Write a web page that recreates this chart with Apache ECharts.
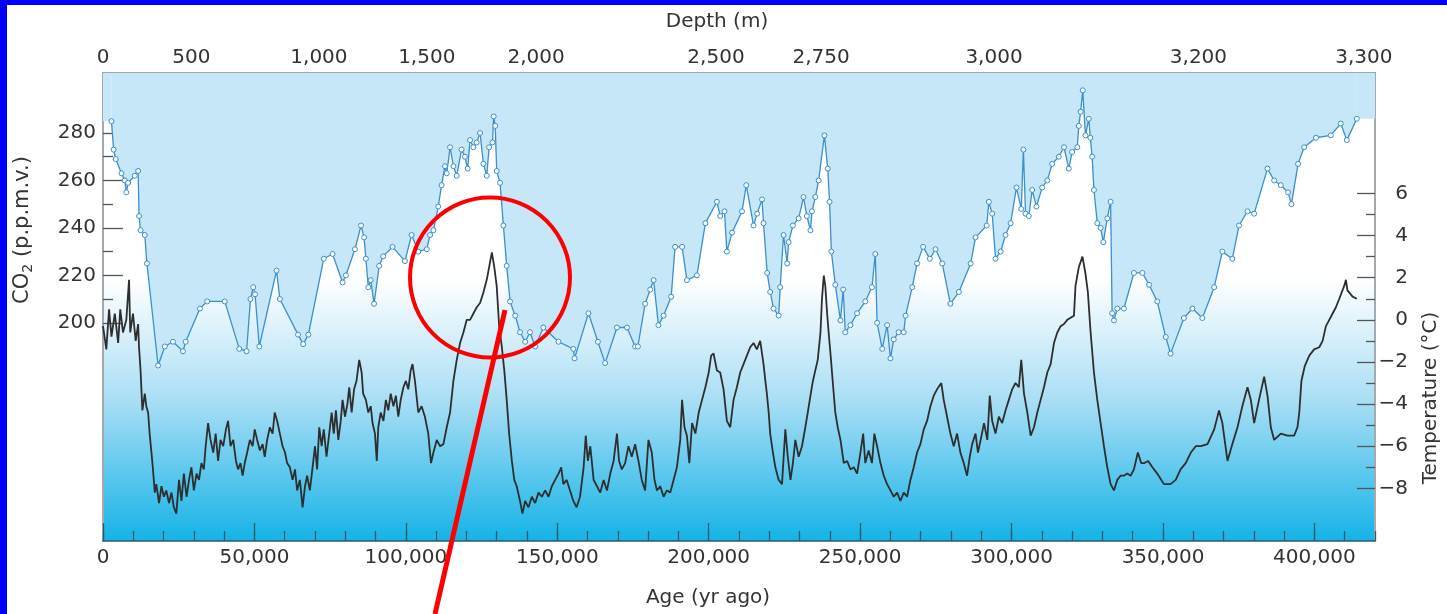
<!DOCTYPE html>
<html>
<head>
<meta charset="utf-8">
<title>Vostok CO2 and temperature</title>
<script src="https://cdn.jsdelivr.net/npm/echarts@6/dist/echarts.min.js"></script>
<style>
  html, body { margin: 0; padding: 0; background: #fff; }
  #chart { width: 1447px; height: 614px; }
</style>
</head>
<body>
<div id="chart"></div>
<script>
// CO2 record (age in yr ago, p.p.m.v.)
var co2Age = [
  2800, 3500, 4200, 6100, 7200, 7700, 8300, 10500, 11600, 11900,
  12400, 13800, 14500, 18200, 20400, 23100, 26400, 27300, 32000, 34400,
  40200, 45000, 47400, 48700, 49600, 50200, 51600, 57300, 58400, 64400,
  66100, 67800, 72900, 75800, 79100, 80200, 83200, 85200, 86200, 86800,
  87600, 88400, 89500, 91200, 92500, 95600, 99700, 101900, 104100, 106900,
  108000, 109100, 110700, 111800, 112900, 113500, 114600, 115700, 116800, 118400,
  119500, 120400, 121200, 122300, 123400, 124500, 125600, 126700, 127500, 128600,
  129000, 129500, 130000, 131100, 132200, 133300, 134400, 136100, 137700, 139400,
  141000, 142700, 145400, 150400, 155300, 155700, 160300, 163400, 165800, 169700,
  173000, 175700, 176600, 179000, 180700, 181800, 183400, 185100, 187600, 188900,
  191200, 192800, 196100, 198900, 202700, 203800, 205200, 206000, 207700, 211000,
  212400, 214800, 216000, 217600, 218100, 219300, 220300, 221400, 223100, 223600,
  224700, 225900, 226400, 227800, 229700, 231300, 232400, 233600, 234100, 235200,
  236300, 238200, 239300, 239900, 240500, 241800, 243500, 244400, 245100, 246800,
  249000, 251700, 253900, 255000, 255600, 257300, 258900, 260000, 261100, 262700,
  264400, 265000, 267200, 268800, 270800, 273000, 274900, 277100, 279800, 282600,
  286500, 288100, 291800, 292500, 293600, 294700, 296400, 298000, 299700, 301600,
  303200, 303900, 304600, 305700, 306800, 308200, 310100, 311800, 313400, 315600,
  317300, 318900, 320000, 321700, 322200, 322800, 323500, 324400, 325500, 326000,
  326600, 327200, 328300, 329400, 330300, 331600, 332700, 333200, 333800, 334900,
  337100, 340400, 343200, 345400, 348100, 350900, 352500, 356900, 359700, 363000,
  366900, 369600, 372900, 375100, 377900, 380100, 384500, 386700, 388900, 391300,
  392400, 394600, 396600, 400500, 405400, 408700, 410700, 414000
];
var co2Value = [
  285, 273, 269, 263, 260, 255, 259, 262, 264, 245,
  239, 237, 225, 182, 190, 192, 188, 192, 206, 209,
  209, 189, 188, 210, 215, 212, 190, 222, 210, 195,
  191, 195, 227, 229, 217, 220, 231, 241, 236, 227,
  215, 218, 208, 224, 228, 232, 226, 237, 230, 231,
  237, 239, 249, 258, 266, 263, 274, 266, 262, 273,
  270, 265, 277, 274, 276, 280, 267, 262, 274, 276,
  287, 283, 264, 259, 241, 224, 209, 203, 196, 192,
  196, 190, 198, 192, 189, 185, 204, 192, 183, 198,
  198, 190, 190, 208, 214, 218, 199, 203, 211, 232,
  232, 218, 220, 242, 251, 245, 247, 230, 238, 247,
  258, 241, 246, 252, 242, 221, 213, 206, 203, 215,
  237, 225, 234, 241, 244, 253, 245, 239, 247, 253,
  260, 279, 265, 251, 230, 216, 201, 214, 196, 199,
  204, 209, 215, 229, 200, 189, 199, 185, 193, 196,
  196, 203, 215, 225, 232, 227, 231, 225, 208, 213,
  225, 236, 241, 251, 246, 227, 230, 237, 242, 257,
  248, 273, 246, 245, 256, 249, 257, 260, 267, 270,
  274, 265, 272, 274, 283, 289, 298, 279, 286, 278,
  270, 256, 242, 240, 234, 244, 251, 204, 201, 206,
  206, 221, 221, 216, 209, 194, 187, 202, 206, 202,
  215, 230, 227, 241, 247, 246, 265, 260, 258, 255,
  250, 267, 274, 278, 279, 284, 277, 286
];

// temperature record (age in yr ago, deg C)
var tempAge = [
  0, 1100, 2000, 2800, 3900, 5000, 5700, 6600, 7700, 8600,
  9000, 9900, 10800, 11600, 11900, 12400, 13000, 13800, 14300, 14900,
  15400, 16000, 16500, 17100, 17600, 18500, 19300, 20100, 20900, 21800,
  22600, 23400, 24200, 25100, 25900, 26700, 27600, 28400, 29200, 30000,
  30900, 31700, 32500, 33300, 33900, 34700, 35500, 36400, 37200, 38000,
  38800, 39700, 40600, 41300, 42100, 43000, 43900, 44600, 45400, 46100,
  46800, 47600, 48500, 49400, 50100, 50900, 51800, 52700, 53400, 54200,
  55100, 56000, 56700, 57500, 58400, 59300, 60100, 60800, 61700, 62600,
  63400, 64100, 65000, 65900, 66700, 67400, 68300, 69200, 70000, 70700,
  71400, 72200, 72900, 73800, 74700, 75500, 76200, 76900, 77700, 78500,
  79100, 79900, 80700, 81300, 82100, 82900, 83700, 84600, 85400, 85900,
  86800, 87600, 88400, 89000, 89800, 90400, 90900, 91700, 92600, 93400,
  94200, 95000, 95900, 96700, 97500, 98300, 99200, 100000, 100800, 101600,
  102200, 103000, 104100, 105200, 106300, 107400, 108300, 109100, 110200, 111300,
  112400, 113500, 114600, 115700, 116800, 117900, 119000, 120100, 121200, 122300,
  123400, 124500, 125600, 126700, 127500, 128400, 129200, 130000, 130800, 131700,
  132500, 133300, 134100, 135000, 135800, 136600, 137700, 138500, 139400, 140500,
  141600, 142700, 143800, 144900, 146000, 147100, 148200, 149300, 150400, 151300,
  152000, 153100, 154200, 155300, 156400, 157500, 158700, 159400, 160100, 160900,
  162000, 163100, 164200, 165300, 166400, 167500, 168600, 169700, 170400, 171300,
  172400, 173500, 174600, 175700, 176800, 177900, 179000, 180100, 181200, 182100,
  182900, 184000, 185100, 186200, 187300, 188400, 189500, 190600, 191200, 192000,
  192800, 193600, 194500, 195600, 196700, 197800, 198900, 200000, 200800, 201600,
  202700, 203800, 204900, 206000, 207100, 208200, 209300, 210400, 211500, 212600,
  213700, 214800, 215900, 217000, 217600, 218100, 218700, 219200, 219800, 220300,
  221200, 222000, 223100, 224200, 225300, 226100, 227000, 227800, 228600, 229700,
  230800, 231900, 232700, 233600, 234400, 235200, 236000, 236900, 237400, 238000,
  238500, 239100, 239600, 240200, 241100, 241800, 242600, 243500, 244600, 245700,
  246800, 247900, 249000, 250100, 251000, 251700, 252800, 253900, 254700, 255600,
  256700, 257800, 258900, 260000, 261100, 262200, 263300, 264400, 265500, 266600,
  267700, 268800, 269900, 271000, 272100, 273200, 274300, 275400, 276800, 277600,
  278700, 279800, 280900, 282000, 283100, 284200, 285300, 286200, 287000, 288100,
  288900, 289800, 290900, 292000, 292800, 293600, 294700, 295800, 296900, 298000,
  299100, 300200, 301300, 302400, 303200, 304100, 305200, 306300, 307400, 308500,
  309600, 310700, 311800, 312900, 314000, 315100, 316200, 317300, 318400, 319500,
  320600, 321100, 322200, 323400, 324400, 325200, 326100, 327200, 328300, 329400,
  330500, 331600, 332700, 333800, 334900, 336000, 337100, 338200, 339300, 340400,
  341700, 342800, 343900, 345100, 346500, 348100, 350300, 352500, 354200, 355800,
  357500, 359200, 360800, 362500, 364700, 366900, 368500, 369600, 371300, 372900,
  374600, 376200, 377900, 379000, 380100, 381700, 383400, 384500, 385600, 386700,
  388900, 391100, 393300, 394400, 395000, 395700, 396800, 398300, 399900, 401600,
  402700, 403800, 404900, 406000, 407100, 408200, 409800, 410400, 410900, 412600,
  414000
];
var tempValue = [
  -0.3, -1.4, 0.5, -0.8, 0.3, -1.1, 0.5, -0.6, 0.0, 1.9,
  -0.6, 0.3, -1.0, -0.2, -1.3, -2.4, -4.3, -3.5, -4.1, -4.4,
  -5.4, -6.3, -7.1, -8.2, -7.8, -8.7, -7.9, -8.4, -8.1, -8.7,
  -8.2, -8.9, -9.2, -7.6, -8.6, -7.3, -8.4, -7.6, -7.0, -8.1,
  -7.3, -7.6, -6.8, -7.1, -6.0, -4.9, -5.7, -6.3, -5.4, -6.7,
  -5.7, -6.0, -5.2, -4.8, -6.0, -5.7, -6.7, -7.1, -6.8, -7.4,
  -6.8, -6.3, -5.7, -6.0, -5.2, -5.7, -6.2, -5.9, -6.5, -5.7,
  -5.1, -5.4, -4.4, -4.8, -5.4, -6.0, -6.3, -6.8, -7.0, -7.6,
  -7.1, -8.1, -7.6, -8.9, -7.9, -7.4, -8.1, -7.0, -6.0, -7.1,
  -5.1, -6.0, -5.2, -6.5, -5.4, -4.4, -5.4, -4.3, -5.7, -4.8,
  -3.8, -4.6, -4.0, -3.2, -4.4, -3.3, -2.9, -1.9, -2.5, -3.5,
  -3.8, -4.4, -4.1, -4.9, -5.4, -6.7, -5.1, -4.4, -4.8, -3.8,
  -4.3, -3.5, -4.1, -3.6, -4.6, -3.8, -3.2, -2.9, -3.3, -2.4,
  -2.1, -2.9, -4.4, -4.1, -4.6, -5.4, -6.8, -6.3, -5.7, -6.0,
  -5.9, -5.1, -4.4, -2.9, -1.9, -1.1, -0.6, 0.0, 0.0, 0.3,
  0.6, 0.8, 1.3, 1.9, 2.5, 3.2, 2.5, 1.6, -0.3, -1.3,
  -2.4, -3.8, -5.4, -6.7, -7.6, -7.9, -8.6, -9.2, -8.6, -8.9,
  -8.4, -8.7, -8.2, -8.4, -8.1, -8.4, -7.9, -7.6, -7.3, -7.0,
  -7.8, -7.6, -8.1, -8.6, -8.9, -8.4, -7.0, -5.5, -6.7, -6.0,
  -7.6, -7.9, -8.2, -7.6, -8.1, -7.3, -6.7, -5.4, -6.7, -7.1,
  -6.8, -6.0, -6.5, -5.9, -6.7, -7.6, -8.1, -5.7, -6.3, -7.6,
  -8.1, -7.9, -8.4, -8.1, -8.2, -7.6, -7.0, -5.7, -3.8, -5.1,
  -5.5, -6.8, -4.9, -5.4, -4.4, -3.8, -3.2, -2.5, -1.7, -1.6,
  -2.4, -2.5, -3.3, -4.8, -5.1, -3.8, -3.2, -2.5, -2.1, -1.7,
  -1.3, -1.1, -1.4, -1.0, -1.6, -2.1, -2.9, -3.5, -4.4, -5.4,
  -6.3, -7.0, -7.6, -7.8, -5.2, -6.5, -7.6, -6.8, -5.7, -6.5,
  -6.0, -5.1, -4.4, -3.6, -2.9, -2.4, -1.9, -0.6, 1.0, 2.1,
  1.6, 0.3, -0.6, -1.6, -3.2, -4.4, -5.1, -5.7, -6.8, -6.7,
  -7.1, -7.0, -7.3, -6.3, -5.4, -6.8, -6.2, -6.8, -5.4, -6.0,
  -6.8, -7.4, -7.8, -8.1, -8.4, -8.2, -8.6, -8.2, -8.4, -7.6,
  -7.0, -6.3, -5.9, -5.2, -4.8, -4.1, -3.6, -3.3, -3.0, -3.8,
  -4.6, -5.4, -6.0, -5.4, -6.3, -6.8, -7.4, -6.5, -5.9, -5.4,
  -6.3, -5.7, -4.9, -5.7, -3.6, -4.8, -5.4, -4.6, -4.9, -4.3,
  -3.8, -3.3, -3.0, -3.2, -1.9, -3.5, -4.4, -5.5, -5.1, -4.4,
  -3.8, -3.2, -2.5, -2.1, -1.1, -0.6, -0.3, -0.2, 0.0, 0.1,
  0.2, 1.6, 2.5, 3.0, 2.2, 1.3, -0.6, -2.5, -3.8, -4.9,
  -6.0, -7.0, -7.8, -8.1, -7.6, -7.4, -7.4, -7.3, -7.4, -7.1,
  -6.3, -6.8, -6.8, -6.7, -7.0, -7.3, -7.8, -7.8, -7.6, -7.1,
  -6.8, -6.3, -6.0, -6.0, -5.9, -5.2, -4.3, -4.9, -6.7, -5.9,
  -5.1, -4.1, -3.2, -3.8, -4.9, -3.8, -2.7, -3.6, -5.1, -5.7,
  -5.4, -5.5, -5.5, -5.1, -4.4, -2.9, -2.2, -1.7, -1.4, -1.3,
  -1.0, -0.3, 0.0, 0.3, 0.6, 1.0, 1.6, 1.9, 1.4, 1.1,
  1.0
];

// axis ticks and labels
var ageLabels = [0, 50000, 100000, 150000, 200000, 250000, 300000, 350000, 400000];
var depthLabels = ['0', '500', '1,000', '1,500', '2,000', '2,500', '2,750', '3,000', '3,200', '3,300'];
var depthLabelAge = [0, 29200, 71300, 106900, 143000, 202400, 237100, 294200, 361700, 416300];
var depthTickAge = [29200, 71300, 106900, 143000, 202400, 237100, 294200, 361700];
var co2Ticks = [200, 220, 240, 260, 280];
var co2MinorTicks = [210, 230, 250, 270];
var tempTicks = [6, 4, 2, 0, -2, -4, -6, -8];
var tempMinorTicks = [5, 3, 1, -1, -3, -5, -7];

var AGE_MAX = 420000;
var FONT = 'DejaVu Sans';
var textCol = '#333';

function zip(a, b) {
  return a.map(function (v, i) { return [v, b[i]]; });
}

var co2Data = zip(co2Age, co2Value);
var tempData = zip(tempAge, tempValue);
// the light fill above the CO2 curve runs out to both plot edges
var co2Last = co2Age.length - 1;
var co2EdgeLeft = [[0, co2Value[0]], [co2Age[0], co2Value[0]]];
var co2EdgeRight = [[co2Age[co2Last], co2Value[co2Last]], [AGE_MAX, co2Value[co2Last]]];

var myChart = echarts.init(document.getElementById('chart'), null, { renderer: 'canvas' });

var labelStyle = { color: textCol, fontFamily: FONT, fontSize: 20 };

var option = {
  animation: false,
  backgroundColor: '#fff',
  grid: {
    left: 103, top: 73, width: 1272, height: 468,
    show: true,
    borderWidth: 0,
    backgroundColor: new echarts.graphic.LinearGradient(0, 0, 0, 1, [
      { offset: 0, color: '#ffffff' },
      { offset: 0.44, color: '#ffffff' },
      { offset: 0.7, color: '#a9def5' },
      { offset: 1, color: '#15b3e7' }
    ])
  },
  xAxis: [
    {
      // age, major ticks + labels
      type: 'value', position: 'bottom', min: 0, max: AGE_MAX,
      axisLine: { onZero: false, lineStyle: { color: '#2b5d6e', width: 1.5 } },
      axisTick: { inside: true, length: 18, customValues: ageLabels, lineStyle: { color: '#2b5d6e', width: 1.3 } },
      axisLabel: Object.assign({
        customValues: ageLabels, margin: 7,
        formatter: function (v) { return v.toLocaleString('en-US'); }
      }, labelStyle),
      splitLine: { show: false }
    },
    {
      // age, minor ticks every 10,000 yr
      type: 'value', position: 'bottom', min: 0, max: AGE_MAX, interval: 10000,
      axisLine: { show: false, onZero: false },
      axisTick: { inside: true, length: 10, lineStyle: { color: '#2b5d6e', width: 1.3 } },
      axisLabel: { show: false },
      splitLine: { show: false }
    },
    {
      // depth, placed at the ages they correspond to
      type: 'value', position: 'top', min: 0, max: AGE_MAX,
      axisLine: { onZero: false, lineStyle: { color: '#7d8c95', width: 1.5 } },
      axisTick: { inside: true, length: 17, customValues: depthTickAge, lineStyle: { color: '#556570', width: 1.3 } },
      axisLabel: Object.assign({
        customValues: depthLabelAge, margin: 5,
        formatter: function (v) { return depthLabels[depthLabelAge.indexOf(v)]; }
      }, labelStyle),
      splitLine: { show: false }
    }
  ],
  yAxis: [
    {
      // CO2
      type: 'value', position: 'left', min: 108, max: 305.3,
      axisLine: { show: true, onZero: false, lineStyle: { color: '#a3abb0', width: 2 } },
      axisTick: { inside: true, length: 20, customValues: co2Ticks, lineStyle: { color: '#555', width: 1.3 } },
      axisLabel: Object.assign({ customValues: co2Ticks, margin: 7 }, labelStyle),
      splitLine: { show: false }
    },
    {
      type: 'value', position: 'left', min: 108, max: 305.3,
      axisLine: { show: false, onZero: false },
      axisTick: { inside: true, length: 10, customValues: co2MinorTicks, lineStyle: { color: '#555', width: 1.3 } },
      axisLabel: { show: false },
      splitLine: { show: false }
    },
    {
      // temperature
      type: 'value', position: 'right', min: -10.5, max: 11.72,
      axisLine: { show: true, onZero: false, lineStyle: { color: '#a3abb0', width: 2 } },
      axisTick: { inside: true, length: 18, customValues: tempTicks, lineStyle: { color: '#555', width: 1.3 } },
      axisLabel: Object.assign({
        customValues: tempTicks, margin: 33, align: 'right',
        formatter: function (v) { return v < 0 ? '\u2212' + (-v) : String(v); }
      }, labelStyle),
      splitLine: { show: false }
    },
    {
      type: 'value', position: 'right', min: -10.5, max: 11.72,
      axisLine: { show: false, onZero: false },
      axisTick: { inside: true, length: 9, customValues: tempMinorTicks, lineStyle: { color: '#555', width: 1.3 } },
      axisLabel: { show: false },
      splitLine: { show: false }
    }
  ],
  series: [
    {
      name: 'co2-edge-left', type: 'line', xAxisIndex: 0, yAxisIndex: 0,
      data: co2EdgeLeft, symbol: 'none', lineStyle: { width: 0 },
      areaStyle: { origin: 'end', color: '#c6e7f8', opacity: 1 }, z: 1
    },
    {
      name: 'co2-edge-right', type: 'line', xAxisIndex: 0, yAxisIndex: 0,
      data: co2EdgeRight, symbol: 'none', lineStyle: { width: 0 },
      areaStyle: { origin: 'end', color: '#c6e7f8', opacity: 1 }, z: 1
    },
    {
      name: 'Temperature', type: 'line', xAxisIndex: 0, yAxisIndex: 2,
      data: tempData, symbol: 'none',
      lineStyle: { color: '#2e2e2e', width: 1.8 }, z: 2
    },
    {
      name: 'CO2', type: 'line', xAxisIndex: 0, yAxisIndex: 0,
      data: co2Data, symbol: 'circle', symbolSize: 5, showAllSymbol: true,
      itemStyle: { color: '#fff', borderColor: '#3a8fd0', borderWidth: 1 },
      lineStyle: { color: '#3a8fd0', width: 1.3 },
      areaStyle: { origin: 'end', color: '#c6e7f8', opacity: 1 }, z: 3
    }
  ],
  graphic: [
    // axis titles
    { type: 'text', x: 717, y: 22, z: 10, style: { text: 'Depth (m)', fill: textCol, font: '20px "DejaVu Sans"', align: 'center', verticalAlign: 'middle' } },
    { type: 'text', x: 708, y: 598, z: 10, style: { text: 'Age (yr ago)', fill: textCol, font: '20px "DejaVu Sans"', align: 'center', verticalAlign: 'middle' } },
    {
      type: 'text', x: 23, y: 230, rotation: Math.PI / 2, z: 10,
      style: {
        text: '{a|CO}{s|2}{a| (p.p.m.v.)}', align: 'center', verticalAlign: 'middle',
        rich: {
          a: { fill: textCol, fontFamily: FONT, fontSize: 21 },
          s: { fill: textCol, fontFamily: FONT, fontSize: 14, padding: [10, 0, 0, 0] }
        }
      }
    },
    { type: 'text', x: 1431, y: 398, rotation: Math.PI / 2, z: 10, style: { text: 'Temperature (\u00b0C)', fill: textCol, font: '20px "DejaVu Sans"', align: 'center', verticalAlign: 'middle' } },
    // blue frame
    { type: 'rect', shape: { x: 0, y: 0, width: 1447, height: 5 }, style: { fill: '#0000ff' }, z: 20 },
    { type: 'rect', shape: { x: 0, y: 0, width: 7, height: 614 }, style: { fill: '#0000ff' }, z: 20 },
    // red annotation
    { type: 'circle', shape: { cx: 490, cy: 277.5, r: 80 }, style: { fill: 'none', stroke: '#ff0000', lineWidth: 4 }, z: 15 },
    { type: 'line', shape: { x1: 505, y1: 310, x2: 435, y2: 614 }, style: { stroke: '#ff0000', lineWidth: 5 }, z: 15 }
  ]
};

myChart.setOption(option);
</script>
</body>
</html>
